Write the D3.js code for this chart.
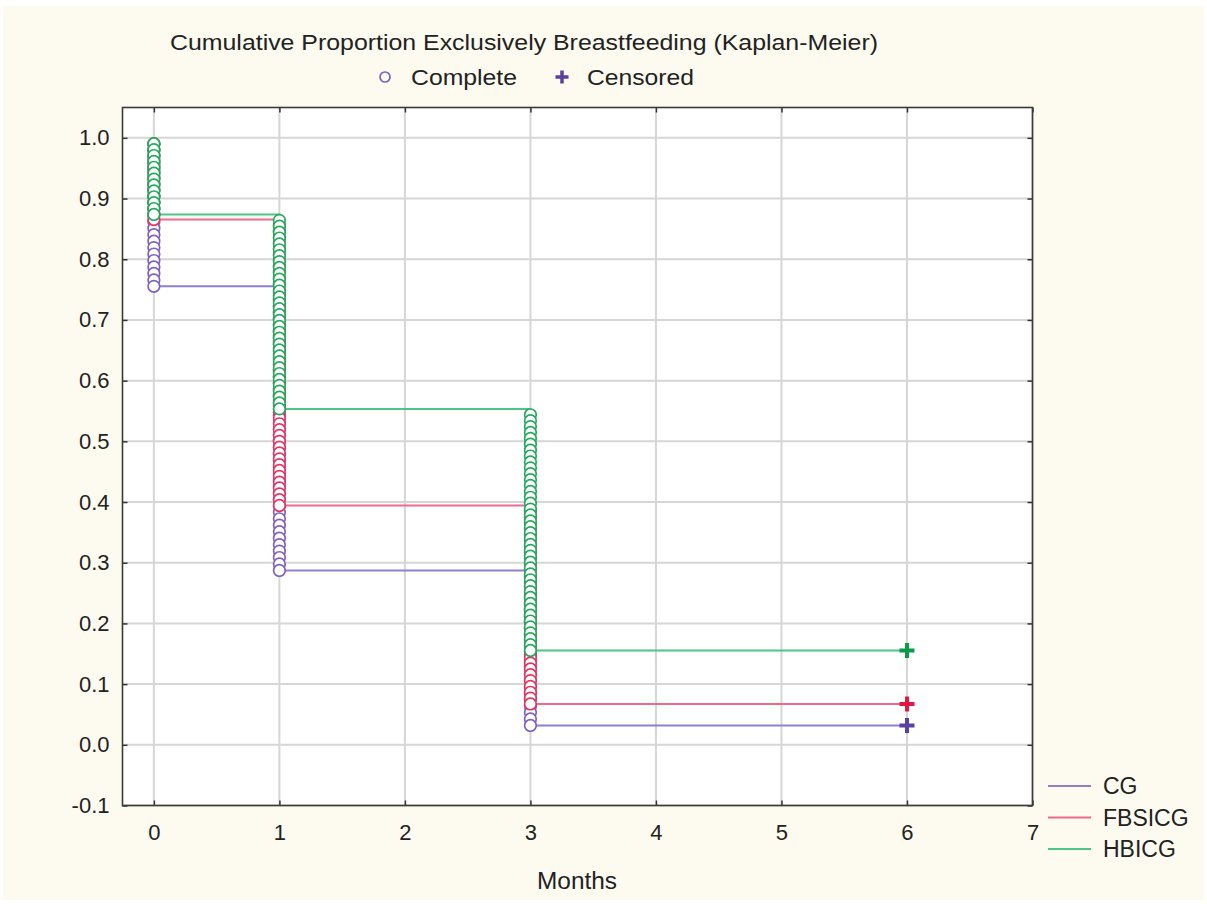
<!DOCTYPE html>
<html>
<head>
<meta charset="utf-8">
<script src="https://cdn.jsdelivr.net/npm/d3@7"></script>
<style>
  body { margin: 0; background: #ffffff; }
  svg text { font-family: "Liberation Sans", Arial, sans-serif; fill: #222; }
</style>
</head>
<body>
<div id="chart"></div>
<script>
// data
const groups = ['CG', 'FBSICG', 'HBICG']
const groupSizes = [94, 104, 103]
const eventTimes = [0, 1, 3]
const eventsCG = [23, 44, 24]
const eventsFBSICG = [14, 49, 34]
const eventsHBICG = [13, 33, 41]
const censorTime = 6
const censoredCounts = [3, 7, 16]
const xTicks = [0, 1, 2, 3, 4, 5, 6, 7]
const yTicks = [-0.1, 0.0, 0.1, 0.2, 0.3, 0.4, 0.5, 0.6, 0.7, 0.8, 0.9, 1.0]

const lineColors = ['#8f80d6', '#f06a8c', '#4cc585']
const markColors = ['#7f60c4', '#e8335f', '#22aa5c']
const plusColors = ['#5b3fa3', '#e3173f', '#0b9a4c']

const width = 1207, height = 904
const svg = d3.select('#chart').append('svg')
  .attr('width', width)
  .attr('height', height)

// beige page behind the chart
svg.append('rect')
  .attr('x', 3).attr('y', 6)
  .attr('width', 1201).attr('height', 894)
  .attr('fill', '#fdfbf0')

const plot = { left: 122.5, right: 1032.5, top: 107.5, bottom: 805.5 }

const x = d3.scaleLinear().domain([-0.25, 7]).range([plot.left, plot.right])
const y = d3.scaleLinear().domain([-0.1, 1.05]).range([plot.bottom, plot.top])

svg.append('rect')
  .attr('x', plot.left).attr('y', plot.top)
  .attr('width', plot.right - plot.left).attr('height', plot.bottom - plot.top)
  .attr('fill', '#ffffff')

// grid
svg.append('g').selectAll('line').data(xTicks).join('line')
  .attr('x1', d => x(d)).attr('x2', d => x(d))
  .attr('y1', plot.top).attr('y2', plot.bottom)
  .attr('stroke', '#d6d6d6').attr('stroke-width', 2)
svg.append('g').selectAll('line').data(yTicks).join('line')
  .attr('x1', plot.left).attr('x2', plot.right)
  .attr('y1', d => y(d)).attr('y2', d => y(d))
  .attr('stroke', '#d6d6d6').attr('stroke-width', 2)

// axes (ticks pointing inside)
const fmt = d => d3.format('.1f')(d).replace('−', '-')
const xAxis = svg.append('g').attr('transform', `translate(0,${plot.bottom})`)
  .call(d3.axisBottom(x).tickValues(xTicks).tickSizeInner(-5).tickSizeOuter(0).tickPadding(19))
const yAxis = svg.append('g').attr('transform', `translate(${plot.left},0)`)
  .call(d3.axisLeft(y).tickValues(yTicks).tickFormat(fmt).tickSizeInner(-5).tickSizeOuter(0).tickPadding(13))
const xTop = svg.append('g').attr('transform', `translate(0,${plot.top})`)
  .call(d3.axisTop(x).tickValues(xTicks).tickSizeInner(-5).tickSizeOuter(0).tickFormat(''))
const yRight = svg.append('g').attr('transform', `translate(${plot.right},0)`)
  .call(d3.axisRight(y).tickValues(yTicks).tickSizeInner(-5).tickSizeOuter(0).tickFormat(''))

;[xAxis, yAxis, xTop, yRight].forEach(g => {
  g.select('.domain').remove()
  g.selectAll('.tick line').attr('stroke', '#333').attr('stroke-width', 1.5)
  g.selectAll('.tick text').attr('font-size', 22).attr('fill', '#222')
    .attr('font-family', '"Liberation Sans", Arial, sans-serif')
})

svg.append('rect')
  .attr('x', plot.left).attr('y', plot.top)
  .attr('width', plot.right - plot.left).attr('height', plot.bottom - plot.top)
  .attr('fill', 'none').attr('stroke', '#3a3a3a').attr('stroke-width', 1.6)

// Kaplan-Meier estimates from the event counts
const allEvents = [eventsCG, eventsFBSICG, eventsHBICG]
const curves = groups.map((g, gi) => {
  let atRisk = groupSizes[gi]
  let s = 1
  const steps = [{ t: 0, s: 1 }]
  const circles = []
  eventTimes.forEach((t, ti) => {
    for (let k = 0; k < allEvents[gi][ti]; k++) {
      s = s * (1 - 1 / atRisk)
      atRisk -= 1
      circles.push({ t, s })
    }
    steps.push({ t, s })
  })
  steps.push({ t: censorTime, s })
  return { name: g, steps, circles, last: s, gi }
})

const line = d3.line().x(d => x(d.t)).y(d => y(d.s)).curve(d3.curveStepAfter)

curves.forEach(c => {
  svg.append('path')
    .attr('d', line(c.steps))
    .attr('fill', 'none')
    .attr('stroke', lineColors[c.gi])
    .attr('stroke-width', 2)
})

curves.forEach(c => {
  svg.append('g').selectAll('circle').data(c.circles).join('circle')
    .attr('cx', d => x(d.t)).attr('cy', d => y(d.s))
    .attr('r', 5.8)
    .attr('fill', '#ffffff')
    .attr('stroke', markColors[c.gi])
    .attr('stroke-width', 1.7)
})

const plusPath = (cx, cy, h) => `M${cx - h},${cy}H${cx + h}M${cx},${cy - h}V${cy + h}`

curves.forEach(c => {
  svg.append('path')
    .attr('d', plusPath(x(censorTime), y(c.last), 7.5))
    .attr('stroke', plusColors[c.gi])
    .attr('stroke-width', 4)
    .attr('fill', 'none')
})

// title and marker legend
svg.append('text')
  .attr('x', 524).attr('y', 50)
  .attr('text-anchor', 'middle')
  .attr('font-size', 22)
  .attr('textLength', 708).attr('lengthAdjust', 'spacingAndGlyphs')
  .text('Cumulative Proportion Exclusively Breastfeeding (Kaplan-Meier)')

svg.append('circle')
  .attr('cx', 385).attr('cy', 77).attr('r', 5)
  .attr('fill', '#fff').attr('stroke', markColors[0]).attr('stroke-width', 1.7)
svg.append('text').attr('x', 411).attr('y', 85).attr('font-size', 22)
  .attr('textLength', 106).attr('lengthAdjust', 'spacingAndGlyphs')
  .text('Complete')
svg.append('path')
  .attr('d', plusPath(562, 77, 6.5))
  .attr('stroke', plusColors[0]).attr('stroke-width', 3.5)
svg.append('text').attr('x', 587).attr('y', 85).attr('font-size', 22)
  .attr('textLength', 107).attr('lengthAdjust', 'spacingAndGlyphs')
  .text('Censored')

// axis title
svg.append('text')
  .attr('x', 577).attr('y', 889)
  .attr('text-anchor', 'middle')
  .attr('font-size', 23)
  .attr('textLength', 80).attr('lengthAdjust', 'spacingAndGlyphs')
  .text('Months')

// series legend
const legendY = d3.scalePoint().domain(groups).range([786, 849])
const legend = svg.append('g')
groups.forEach((g, gi) => {
  legend.append('line')
    .attr('x1', 1048).attr('x2', 1091)
    .attr('y1', legendY(g)).attr('y2', legendY(g))
    .attr('stroke', lineColors[gi]).attr('stroke-width', 2)
  legend.append('text')
    .attr('x', 1103).attr('y', legendY(g) + 8)
    .attr('font-size', 23)
    .text(g)
})
</script>
</body>
</html>
